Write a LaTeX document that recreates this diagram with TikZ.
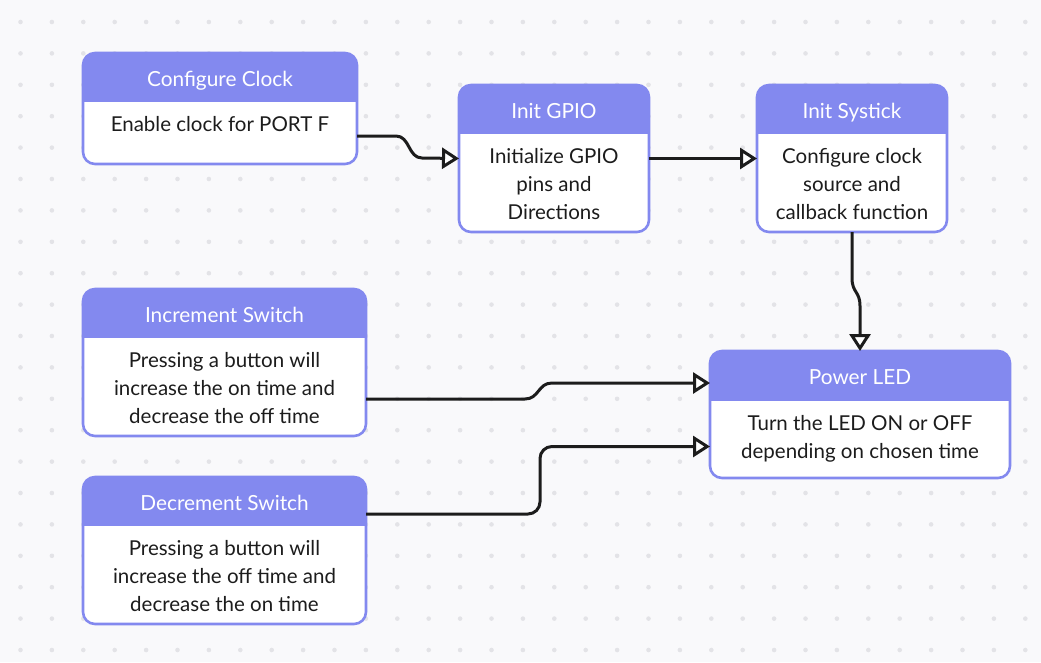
\documentclass[tikz,border=0pt]{standalone}
\usepackage{fontspec}
\setmainfont{Lato}
\usetikzlibrary{arrows.meta,calc}
\definecolor{bg}{HTML}{F9F9FB}
\definecolor{dotc}{HTML}{E3E3E7}
\definecolor{hdr}{HTML}{8389EF}
\definecolor{ink}{HTML}{1C1C1C}
\tikzset{
 boxframe/.style={draw=hdr, line width=2.6pt, rounded corners=12pt, inner sep=0pt, outer sep=0pt, anchor=north west},
 titletext/.style={text=white, font=\fontsize{20.8}{24}\selectfont, inner sep=0pt, text height=15pt, text depth=4pt},
 bodytext/.style={text=ink, font=\fontsize{20.5}{28.3}\selectfont, align=center, inner sep=0pt, anchor=north},
 conn/.style={draw=ink, line width=3pt, line join=round, -{Triangle[length=17pt,width=21pt,fill=white,line width=3pt]}},
}
\newcommand\flowbox[8]{%
 \begin{scope}
 \clip[rounded corners=12pt] (#2,#3) rectangle (#4,#5);
 \fill[white] (#2,#3) rectangle (#4,#5);
 \fill[hdr] (#2,#3) rectangle (#4,#6);
 \end{scope}
 \node[boxframe, minimum width={(#4-#2)*1pt}, minimum height={(#5-#3)*1pt}] (#1) at (#2,#3) {};
 \node[titletext] (#1-title) at ({(#2+#4)/2},{(#3+#6)/2+3}) {#7};
 \node[bodytext] (#1-body) at ({(#2+#4)/2},{#6+14}) {#8};
}
\begin{document}
\begin{tikzpicture}[x=1pt,y=-1pt]
\useasboundingbox (0,0) rectangle (1041,662);
\fill[bg] (0,0) rectangle (1041,662);
\foreach \i in {0,...,32}{
 \foreach \j in {0,...,20}{
  \fill[dotc] (20.5+31.4*\i, 22+31.4*\j) circle (2.3);
 }
}
\flowbox{cc}{83}{53}{357}{164}{102}{Configure Clock}{Enable clock for PORT F}
\flowbox{gp}{459}{85}{649}{232}{134}{Init GPIO}{Initialize GPIO\\pins and\\Directions}
\flowbox{sy}{757}{85}{947}{232}{134}{Init Systick}{Configure clock\\source and\\callback function}
\flowbox{inc}{83}{289}{366}{436}{338}{Increment Switch}{Pressing a button will\\increase the on time and\\decrease the off time}
\flowbox{dec}{83}{477}{366}{624}{526}{Decrement Switch}{Pressing a button will\\increase the off time and\\decrease the on time}
\flowbox{pl}{710}{351}{1010}{478}{401}{Power LED}{Turn the LED ON or OFF\\depending on chosen time}

\draw[conn] ([yshift=-27.5pt]cc.east) -- (396,136) .. controls (410,136) and (408,158) .. (422,158) -- (gp.west);
\draw[conn] (gp.east) -- (sy.west);
\draw[conn] (sy.south) -- (852,278) .. controls (852,293) and (860,291) .. (860,306) -- (pl.north);
\draw[conn] ([yshift=-36.5pt]inc.east) -- (525,399) .. controls (539,399) and (538,383) .. (552,383) -- ([yshift=31.5pt]pl.west);
\draw[conn, rounded corners=12pt] ([yshift=36.5pt]dec.east) -| (540,446.5) -- ([yshift=-32pt]pl.west);
\end{tikzpicture}
\end{document}
